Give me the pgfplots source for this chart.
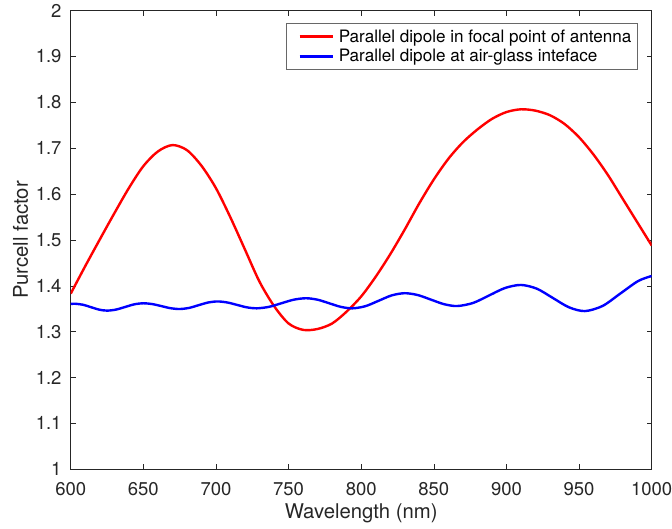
\documentclass[border=0pt]{standalone}
\usepackage{pgfplots}
\pgfplotsset{compat=1.18}
\usepackage{fontspec}
\setmainfont{TeX Gyre Heros}
\definecolor{axgray}{rgb}{0.15,0.15,0.15}
\begin{document}
\begin{tikzpicture}
\begin{axis}[
  scale only axis,
  width=581bp, height=458.6bp,
  xmin=600, xmax=1000, ymin=1, ymax=2,
  xtick={600,650,...,1000},
  ytick={1,1.1,...,2.01},
  tick align=inside,
  major tick length=5bp,
  axis line style={axgray, line width=0.6bp},
  every tick/.style={axgray, line width=0.6bp},
  /pgf/number format/assume math mode=true,
  /pgf/number format/fixed,
  /pgf/number format/1000 sep={},
  tick label style={font=\fontsize{18.5bp}{22bp}\selectfont, text=axgray},
  xticklabel style={anchor=base, inner sep=0pt, yshift=-25.7bp},
  yticklabel style={anchor=east, inner sep=0pt, xshift=-9bp},
  xlabel={Wavelength (nm)},
  ylabel={Purcell factor},
  label style={font=\fontsize{20.3bp}{24bp}\selectfont, text=axgray},
  xlabel style={at={(axis description cs:0.5,-0.1062)}, anchor=base, inner sep=0pt},
  ylabel style={at={(axis description cs:-0.0737,0.5)}, anchor=base, inner sep=0pt, rotate=0},
  legend style={at={(axis description cs:0.976,0.9725)}, anchor=north east,
    draw=axgray!70, line width=0.6bp, font=\fontsize{17.1bp}{20bp}\selectfont,
    inner xsep=6bp, inner ysep=6bp, row sep=5.7bp, column sep=5bp,
    nodes={inner sep=0pt}},
  legend cell align=left,
  legend image code/.code={\path (0bp,0bp); \draw[#1] (5.7bp,0bp) -- (38.7bp,0bp);},
]
\addplot[red, line width=2.4bp, smooth] coordinates {
(600,1.383)(610,1.443)(620,1.501)(630,1.558)(640,1.613)(650,1.661)(660,1.693)(670,1.707)
(680,1.696)(690,1.662)(700,1.613)(710,1.549)(720,1.479)(730,1.409)(740,1.356)(750,1.318)
(760,1.304)(770,1.306)(780,1.318)(790,1.344)(800,1.377)(810,1.420)(820,1.469)(830,1.523)
(840,1.580)(850,1.632)(860,1.677)(870,1.713)(880,1.741)(890,1.764)(900,1.779)(910,1.785)
(920,1.782)(930,1.772)(940,1.753)(950,1.724)(960,1.686)(970,1.641)(980,1.590)(990,1.539)
(1000,1.488)
};
\addlegendentry{Parallel dipole in focal point of antenna}
\addplot[blue, line width=2.4bp, smooth] coordinates {
(600,1.3605)(603,1.361)(608.5,1.3588)(614,1.3535)(619.5,1.3482)(625,1.346)(631.25,1.3483)
(637.5,1.354)(643.75,1.3597)(650,1.362)(656.25,1.3602)(662.5,1.3558)(668.75,1.3513)(675,1.3495)
(681.5,1.3519)(688,1.3578)(694.5,1.3636)(701,1.366)(707.75,1.3638)(714.5,1.3585)(721.25,1.3532)
(728,1.351)(736.5,1.3542)(745,1.362)(753.5,1.3698)(762,1.373)(770,1.3698)(778,1.362)(786,1.3542)
(794,1.351)(803,1.3558)(812,1.3675)(821,1.3792)(830,1.384)(839,1.3799)(848,1.37)(857,1.3601)
(866,1.356)(877,1.3627)(888,1.379)(899,1.3953)(910,1.402)(921,1.3937)(932,1.3735)(943,1.3533)
(954,1.345)(966.25,1.3563)(978.5,1.3835)(990.75,1.4107)(1000,1.4215)
};
\addlegendentry{Parallel dipole at air-glass inteface}
\end{axis}
\pgfresetboundingbox
\path[use as bounding box] (-70.7bp,-59.7bp) rectangle (601.3bp,469.3bp);
\end{tikzpicture}
\end{document}
